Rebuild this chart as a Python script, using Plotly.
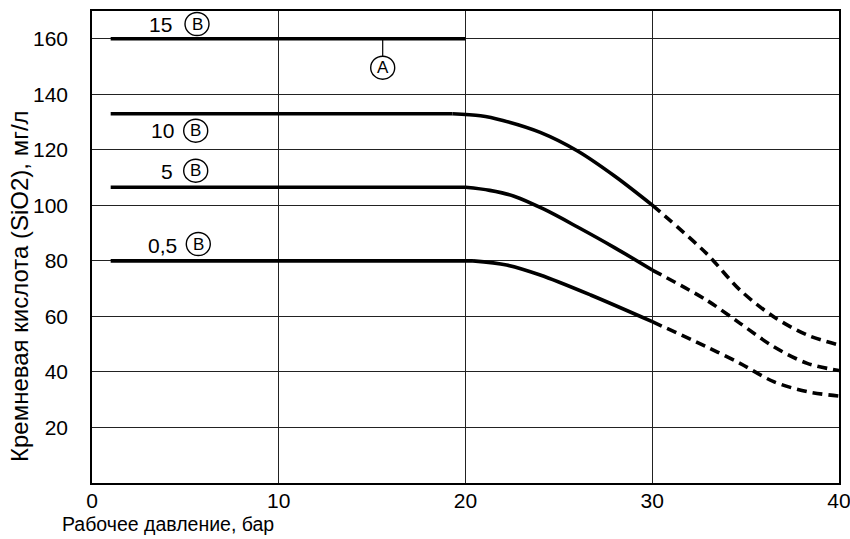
import plotly.graph_objects as go

# ---- data ----
pressure_15 = [1, 20]
silica_15 = [160, 160]

pressure_10_flat = [1, 19.3]
silica_10_flat = [133, 133]
pressure_10_solid = [19.3, 20.8, 22.0, 24.0, 26.0, 28.0, 30.0]
silica_10_solid = [133, 132.3, 130.6, 126.3, 119.6, 110.5, 100.1]
pressure_10_dash = [30.0, 32.9, 34.7, 36.5, 38.3, 40.0]
silica_10_dash = [100.1, 82.7, 69.5, 59.9, 53.3, 49.7]

pressure_5_flat = [1, 20.0]
silica_5_flat = [106.5, 106.5]
pressure_5_solid = [20.0, 21.3, 22.6, 24.2, 26.0, 28.0, 30.0]
silica_5_solid = [106.5, 105.4, 103.3, 98.6, 92.2, 84.7, 76.7]
pressure_5_dash = [30.0, 32.9, 34.7, 36.5, 38.3, 40.0]
silica_5_dash = [76.7, 65.9, 57.5, 49.1, 43.1, 40.5]

pressure_05_flat = [1, 20.4]
silica_05_flat = [80, 80]
pressure_05_solid = [20.4, 22.2, 24.0, 26.7, 30.0]
silica_05_solid = [80, 78.5, 74.9, 67.7, 58.1]
pressure_05_dash = [30.0, 32.9, 34.7, 36.5, 38.3, 40.0]
silica_05_dash = [58.1, 49.1, 43.1, 36.5, 32.9, 31.3]

series_labels = ["15", "10", "5", "0,5"]
x_ticks = [0, 10, 20, 30, 40]
y_ticks = [20, 40, 60, 80, 100, 120, 140, 160]

FONT = "Liberation Sans, Arial, sans-serif"

fig = go.Figure()

line_w = 3.6
def add(x, y, dash="solid", shape="spline"):
    fig.add_trace(go.Scatter(x=x, y=y, mode="lines",
                             line=dict(color="black", width=line_w, dash=dash,
                                       shape=shape, smoothing=0.9),
                             showlegend=False, hoverinfo="skip"))

add(pressure_15, silica_15, shape="linear")
add(pressure_10_flat, silica_10_flat, shape="linear")
add(pressure_10_solid, silica_10_solid)
add(pressure_10_dash, silica_10_dash, dash="10px,6px")
add(pressure_5_flat, silica_5_flat, shape="linear")
add(pressure_5_solid, silica_5_solid)
add(pressure_5_dash, silica_5_dash, dash="10px,6px")
add(pressure_05_flat, silica_05_flat, shape="linear")
add(pressure_05_solid, silica_05_solid)
add(pressure_05_dash, silica_05_dash, dash="10px,6px")

W, H = 850, 539
L, R, T, B = 92, 11, 11, 56
pw, ph = W - L - R, H - T - B

def px2paper(px, py):
    return (px - L) / pw, (H - B - py) / ph

# labels (number + circled B), given as pixel centers
label_px = [  # (x of number, y of number, x of circle, y of circle)
    (160.5, 24.5, 197.0, 24.0),
    (162.7, 130.7, 195.7, 130.7),
    (167.3, 171.7, 195.7, 170.7),
    (162.7, 245.0, 198.3, 244.0),
]
annotations = []
shapes = []
for lab, (xn, yn, xc, yc) in zip(series_labels, label_px):
    ax_, ay_ = px2paper(xn, yn)
    annotations.append(dict(x=ax_, y=ay_, xref="paper", yref="paper", text=lab, showarrow=False,
                            xanchor="center", yanchor="middle",
                            font=dict(family=FONT, size=21, color="black")))
    cx, cy = px2paper(xc, yc)
    annotations.append(dict(x=cx, y=cy, xref="paper", yref="paper", text="B", showarrow=False,
                            xanchor="center", yanchor="middle",
                            font=dict(family=FONT, size=17, color="black")))
    shapes.append(dict(type="circle", xref="paper", yref="paper", xsizemode="pixel", ysizemode="pixel",
                       xanchor=cx, yanchor=cy, x0=-12, x1=12, y0=-11.5, y1=11.5,
                       line=dict(color="black", width=1.4)))

# A marker
a_cx, a_cy = px2paper(382.7, 67.7)
_, a_top = px2paper(382.7, 40)
_, a_bot = px2paper(382.7, 56)
shapes.append(dict(type="line", xref="paper", yref="paper", x0=a_cx, x1=a_cx, y0=a_top, y1=a_bot,
                   line=dict(color="black", width=1.2)))
shapes.append(dict(type="circle", xref="paper", yref="paper", xsizemode="pixel", ysizemode="pixel",
                   xanchor=a_cx, yanchor=a_cy, x0=-12, x1=12, y0=-11.5, y1=11.5,
                   line=dict(color="black", width=1.4)))
annotations.append(dict(x=a_cx, y=a_cy, xref="paper", yref="paper", text="A", showarrow=False,
                        xanchor="center", yanchor="middle",
                        font=dict(family=FONT, size=17, color="black")))

# axis titles
tx, ty = px2paper(60, 524)
annotations.append(dict(x=tx, y=ty, xref="paper", yref="paper", text="Рабочее давление, бар",
                        showarrow=False, xanchor="left", yanchor="middle",
                        font=dict(family=FONT, size=19.5, color="black")))
yx, yy = px2paper(19, 286)
annotations.append(dict(x=yx, y=yy, xref="paper", yref="paper", text="Кремневая кислота (SiO2), мг/л",
                        showarrow=False, textangle=-90, xanchor="center", yanchor="middle",
                        font=dict(family=FONT, size=24, color="black")))

fig.update_layout(
    width=W, height=H,
    margin=dict(l=L, r=R, t=T, b=B, autoexpand=False),
    plot_bgcolor="white", paper_bgcolor="white",
    annotations=annotations, shapes=shapes,
    font=dict(family=FONT, size=21, color="black"),
    xaxis=dict(range=[0, 40], tickvals=x_ticks, ticktext=[str(v) for v in x_ticks],
               showgrid=True, gridcolor="#222", gridwidth=1.2, automargin=False,
               showline=True, linecolor="black", linewidth=1.5, mirror=True,
               ticks="", zeroline=False, tickfont=dict(size=21, family=FONT),
               ticklabelstandoff=-2, ticklabeloverflow="allow"),
    yaxis=dict(range=[0, 170], tickvals=y_ticks, ticktext=[str(v) for v in y_ticks],
               showgrid=True, gridcolor="#222", gridwidth=1.2, automargin=False,
               showline=True, linecolor="black", linewidth=1.5, mirror=True,
               ticks="", zeroline=False, tickfont=dict(size=21, family=FONT),
               ticklabelstandoff=18),
)

fig.write_html("out.html", config={"displayModeBar": False},
               post_script="document.body.style.margin='0';document.body.style.overflow='hidden';")
